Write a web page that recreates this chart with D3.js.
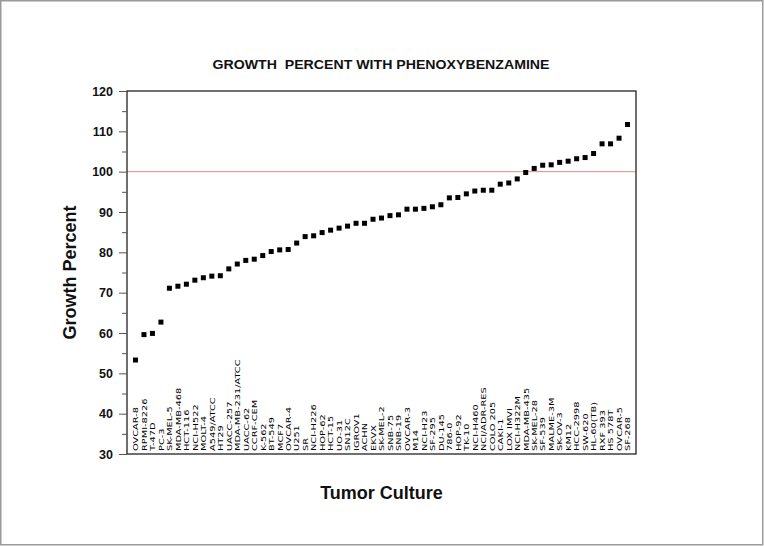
<!DOCTYPE html>
<html>
<head>
<meta charset="utf-8">
<script src="https://cdn.jsdelivr.net/npm/d3@7"></script>
<style>
html,body{margin:0;padding:0;background:#fff;}
svg{display:block;}
</style>
</head>
<body>
<svg id="chart" width="764" height="546"></svg>
<script>
const cellLines = ["OVCAR-8","RPMI-8226","T-47D","PC-3","SK-MEL-5","MDA-MB-468","HCT-116","NCI-H522","MOLT-4","A549/ATCC","HT29","UACC-257","MDA-MB-231/ATCC","UACC-62","CCRF-CEM","K-562","BT-549","MCF7","OVCAR-4","U251","SR","NCI-H226","HOP-62","HCT-15","UO-31","SN12C","IGROV1","ACHN","EKVX","SK-MEL-2","SNB-75","SNB-19","OVCAR-3","M14","NCI-H23","SF-295","DU-145","786-0","HOP-92","TK-10","NCI-H460","NCI/ADR-RES","COLO 205","CAKI-1","LOX IMVI","NCI-H322M","MDA-MB-435","SK-MEL-28","SF-539","MALME-3M","SK-OV-3","KM12","HCC-2998","SW-620","HL-60(TB)","RXF 393","HS 578T","OVCAR-5","SF-268"];
const growthPercent = [53.3,59.6,59.9,62.7,71.1,71.6,72.1,73.1,73.7,74.1,74.2,75.9,77.1,78.0,78.3,79.2,80.2,80.6,80.7,82.3,83.9,84.1,84.9,85.5,86.0,86.5,87.2,87.2,88.2,88.5,89.1,89.3,90.7,90.7,90.9,91.3,91.8,93.5,93.6,94.5,95.2,95.4,95.4,96.9,97.2,98.2,99.8,100.8,101.6,101.7,102.3,102.6,103.2,103.5,104.5,106.9,106.9,108.3,111.7];
const yTicks = [30,40,50,60,70,80,90,100,110,120];
const yMinorTicks = [35,45,55,65,75,85,95,105,115];
const referenceLine = 100;
const titleText = "GROWTH\u00a0\u00a0PERCENT WITH PHENOXYBENZAMINE";
const xTitle = "Tumor Culture";
const yTitle = "Growth Percent";

const svg = d3.select("#chart");
const W = 764, H = 546;
const m = {left:127, right:636, top:91, bottom:454};

svg.append("rect").attr("x",0.75).attr("y",0.75).attr("width",W-2).attr("height",H-2)
  .attr("fill","#fff").attr("stroke","#9a9a9a").attr("stroke-width",1.5);

const x = d3.scaleLinear().domain([0, cellLines.length+1]).range([m.left, m.right]);
const y = d3.scaleLinear().domain([30,120]).range([m.bottom, m.top]);

// reference line
svg.append("line").attr("x1",m.left).attr("x2",m.right)
  .attr("y1",y(referenceLine)).attr("y2",y(referenceLine))
  .attr("stroke","#e08a8a").attr("stroke-width",1);

// frame
svg.append("rect").attr("x",m.left).attr("y",m.top).attr("width",m.right-m.left).attr("height",m.bottom-m.top)
  .attr("fill","none").attr("stroke","#222").attr("stroke-width",1.3);

// y axis
const yAxis = d3.axisLeft(y).tickValues(yTicks).tickSize(8).tickPadding(6).tickFormat(d3.format("d"));
const ga = svg.append("g").attr("transform",`translate(${m.left},0)`).call(yAxis);
ga.select(".domain").remove();
ga.selectAll(".tick line").attr("stroke","#555");
ga.selectAll(".tick text").attr("font-family","Liberation Sans, Arial, sans-serif")
  .attr("font-size",12.5).attr("font-weight","bold").attr("fill","#111");
const gm = svg.append("g").attr("transform",`translate(${m.left},0)`)
  .call(d3.axisLeft(y).tickValues(yMinorTicks).tickSize(5).tickFormat(""));
gm.select(".domain").remove();
gm.selectAll(".tick line").attr("stroke","#555");

// points
svg.append("g").selectAll("rect").data(growthPercent).join("rect")
  .attr("x",(d,i)=>x(i+1)-2.5).attr("y",d=>y(d)-2.5)
  .attr("width",5).attr("height",5).attr("fill","#000");

// category labels
svg.append("g").selectAll("text").data(cellLines).join("text")
  .attr("transform",(d,i)=>`translate(${x(i+1)+2.8},${m.bottom-3}) rotate(-90) scale(1,0.74)`)
  .attr("font-family","DejaVu Sans, Verdana, sans-serif")
  .attr("font-size",9.8).attr("fill","#000")
  .text(d=>d);

// titles
svg.append("text").attr("x",381).attr("y",69).attr("text-anchor","middle")
  .attr("font-family","Liberation Sans, Arial, sans-serif").attr("font-weight","bold")
  .attr("font-size",13.5).attr("fill","#111")
  .attr("textLength",337).attr("lengthAdjust","spacingAndGlyphs").text(titleText);
svg.append("text").attr("x",(m.left+m.right)/2).attr("y",499).attr("text-anchor","middle")
  .attr("font-family","Liberation Sans, Arial, sans-serif").attr("font-weight","bold")
  .attr("font-size",18).attr("fill","#111").text(xTitle);
svg.append("text").attr("transform",`translate(76,${(m.top+m.bottom)/2}) rotate(-90)`)
  .attr("text-anchor","middle")
  .attr("font-family","Liberation Sans, Arial, sans-serif").attr("font-weight","bold")
  .attr("font-size",18).attr("fill","#111").text(yTitle);
</script>
</body>
</html>
